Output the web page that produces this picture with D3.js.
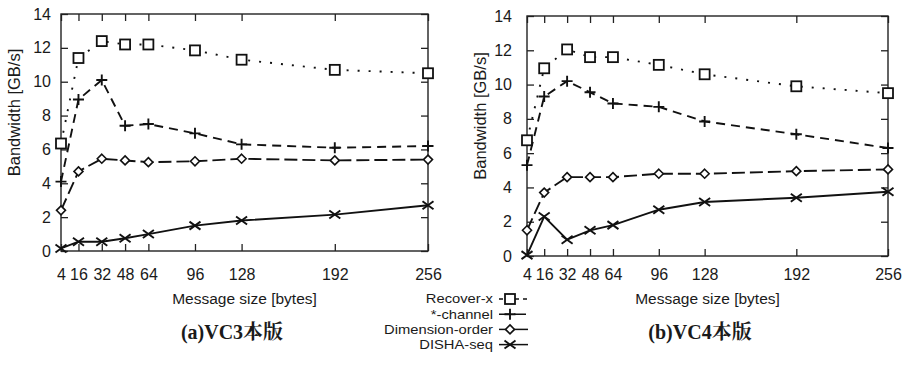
<!DOCTYPE html>
<html>
<head>
<meta charset="utf-8">
<script src="https://cdn.jsdelivr.net/npm/d3@7"></script>
<style>
  body { margin: 0; background: #fff; }
  svg { display: block; }
  text { fill: #1a1a1a; }
</style>
</head>
<body>
<div id="graph"></div>
<script>
// message sizes on the x axis (bytes)
const sizes = [4, 16, 32, 48, 64, 96, 128, 192, 256];
const yTicks = [0, 2, 4, 6, 8, 10, 12, 14];
const seriesNames = ["Recover-x", "*-channel", "Dimension-order", "DISHA-seq"];

// (a) VC3
const vc3Recover = [6.35, 11.4, 12.4, 12.2, 12.2, 11.85, 11.3, 10.7, 10.5];
const vc3Channel = [4.1, 8.95, 10.1, 7.4, 7.5, 6.95, 6.3, 6.1, 6.2];
const vc3Dim     = [2.4, 4.7, 5.45, 5.35, 5.25, 5.3, 5.45, 5.35, 5.4];
const vc3Disha   = [0.15, 0.55, 0.55, 0.75, 1.0, 1.5, 1.8, 2.15, 2.7];

// (b) VC4
const vc4Recover = [6.75, 10.95, 12.05, 11.6, 11.6, 11.15, 10.6, 9.9, 9.5];
const vc4Channel = [5.3, 9.3, 10.2, 9.55, 8.9, 8.7, 7.85, 7.1, 6.3];
const vc4Dim     = [1.5, 3.7, 4.6, 4.6, 4.6, 4.8, 4.8, 4.95, 5.05];
const vc4Disha   = [0.05, 2.3, 0.95, 1.5, 1.8, 2.7, 3.15, 3.4, 3.75];

const captions = ["(a)VC3本版", "(b)VC4本版"];

const dashes = ["2,9", "9,6", "13,5", null];
const sansFont = "'Liberation Sans', Arial, sans-serif";
const serifFont = "'Liberation Serif', 'Times New Roman', 'Noto Serif CJK SC', 'Noto Sans CJK SC', serif";

let svg = d3.select("#graph").append("svg")
  .attr("width", 903)
  .attr("height", 368);

function marker(g, kind, x, y) {
  if (kind == 0) {
    g.append("rect").attr("x", x - 5).attr("y", y - 5).attr("width", 10).attr("height", 10)
      .attr("fill", "#fff").attr("stroke", "#111").attr("stroke-width", 1.8);
  } else if (kind == 1) {
    g.append("path").attr("d", `M${x-5.5},${y}H${x+5.5}M${x},${y-5.5}V${y+5.5}`)
      .attr("stroke", "#111").attr("stroke-width", 1.9);
  } else if (kind == 2) {
    g.append("path").attr("d", `M${x},${y-4.5}L${x+4.5},${y}L${x},${y+4.5}L${x-4.5},${y}Z`)
      .attr("fill", "#fff").attr("stroke", "#111").attr("stroke-width", 1.6);
  } else {
    g.append("path").attr("d", `M${x-5.5},${y-4}L${x+5.5},${y+4}M${x-5.5},${y+4}L${x+5.5},${y-4}`)
      .attr("stroke", "#111").attr("stroke-width", 1.9);
  }
}

function drawPanel(box, series, caption) {
  let x = d3.scaleLinear().domain([4, 256]).range([box.left, box.right]);
  let y = d3.scaleLinear().domain([0, 14]).range([box.bottom, box.top]);
  let g = svg.append("g");

  let axes = [
    [d3.axisBottom(x).tickValues(sizes), `translate(0,${box.bottom})`, box.padX],
    [d3.axisTop(x).tickValues(sizes).tickFormat(""), `translate(0,${box.top})`, 0],
    [d3.axisLeft(y).tickValues(yTicks), `translate(${box.left},0)`, box.padY],
    [d3.axisRight(y).tickValues(yTicks).tickFormat(""), `translate(${box.right},0)`, 0]
  ];
  axes.forEach(([ax, tr, pad]) => {
    let a = g.append("g").attr("transform", tr)
      .call(ax.tickSizeInner(-7).tickSizeOuter(0).tickPadding(pad));
    a.select(".domain").remove();
    a.selectAll("line").attr("stroke", "#222").attr("stroke-width", 1.3);
    a.selectAll("text").attr("font-family", sansFont).attr("font-size", 16).attr("fill", "#1a1a1a");
  });

  g.append("rect")
    .attr("x", box.left).attr("y", box.top)
    .attr("width", box.right - box.left).attr("height", box.bottom - box.top)
    .attr("fill", "none").attr("stroke", "#222").attr("stroke-width", 1.4);

  series.forEach((vals, i) => {
    let line = d3.line().x((d, j) => x(sizes[j])).y(d => y(d));
    g.append("path").datum(vals)
      .attr("d", line)
      .attr("fill", "none")
      .attr("stroke", "#111")
      .attr("stroke-width", 1.9)
      .attr("stroke-dasharray", dashes[i]);
    vals.forEach((v, j) => marker(g, i, x(sizes[j]), y(v)));
  });

  g.append("text")
    .attr("transform", `translate(${box.left - 41},${(box.top + box.bottom) / 2 - 20}) rotate(-90)`)
    .attr("text-anchor", "middle")
    .attr("font-family", sansFont).attr("font-size", 16.5)
    .text("Bandwidth [GB/s]");

  g.append("text")
    .attr("x", (box.left + box.right) / 2).attr("y", 304)
    .attr("text-anchor", "middle")
    .attr("font-family", sansFont).attr("font-size", 15.5)
    .text("Message size [bytes]");

  g.append("text")
    .attr("x", box.capX).attr("y", 339)
    .attr("text-anchor", "middle")
    .attr("font-family", serifFont)
    .attr("font-weight", "bold").attr("font-size", 20)
    .text(caption);
}

drawPanel({left: 61, right: 428, top: 14, bottom: 251, padX: 18, padY: 10, capX: 232},
  [vc3Recover, vc3Channel, vc3Dim, vc3Disha], captions[0]);
drawPanel({left: 527, right: 888, top: 16, bottom: 256, padX: 13, padY: 15, capX: 700},
  [vc4Recover, vc4Channel, vc4Dim, vc4Disha], captions[1]);

// legend
let leg = svg.append("g");
seriesNames.forEach((name, i) => {
  let yy = 299 + i * 15.2;
  leg.append("text")
    .attr("transform", `translate(493,${yy}) scale(1.18,1)`)
    .attr("dy", "0.35em")
    .attr("text-anchor", "end")
    .attr("font-family", sansFont).attr("font-size", 12.5)
    .text(name);
  leg.append("line")
    .attr("x1", 499).attr("x2", 528).attr("y1", yy).attr("y2", yy)
    .attr("stroke", "#111").attr("stroke-width", 1.5)
    .attr("stroke-dasharray", i == 0 ? "4,4" : (i == 1 ? "12,3" : null));
  marker(leg, i, 510, yy);
});
</script>
</body>
</html>
